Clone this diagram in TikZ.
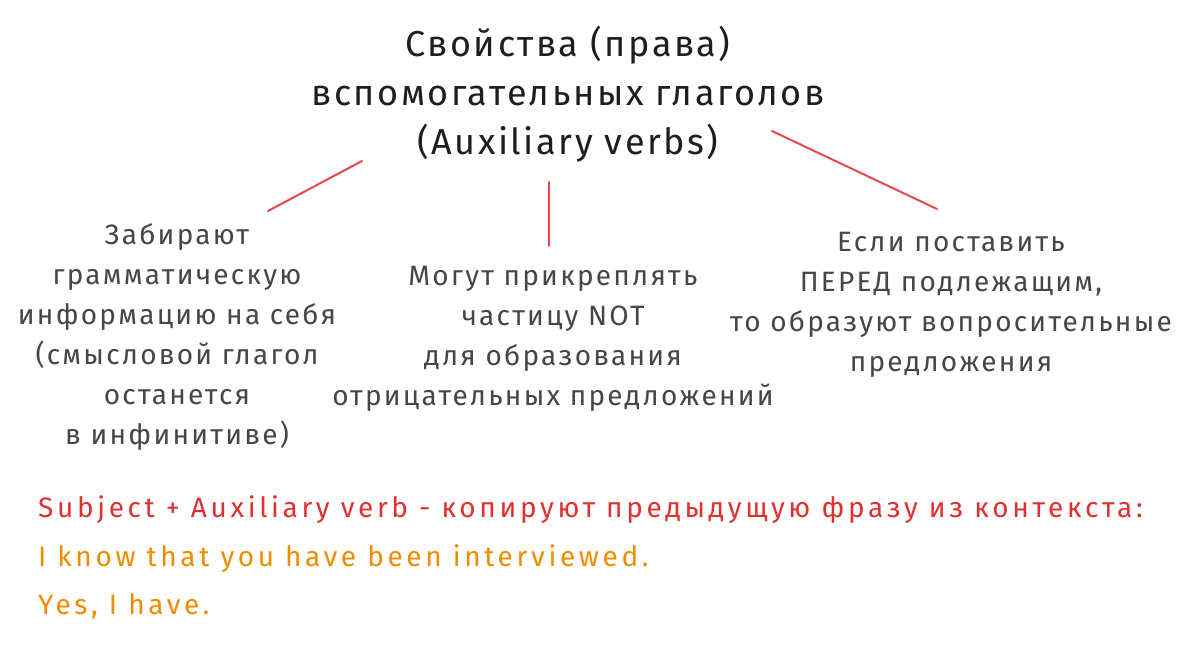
\documentclass[tikz,border=0pt]{standalone}
\usepackage{fontspec}
\setmainfont{Fira Sans}
\newfontfamily\titlefont[LetterSpace=7]{Fira Sans}
\newfontfamily\blockfont[LetterSpace=8]{Fira Sans}
\newfontfamily\notefont[LetterSpace=13]{Fira Sans}
\definecolor{ink}{HTML}{1E1E1E}
\definecolor{bodyink}{HTML}{464646}
\definecolor{linered}{HTML}{E5484D}
\definecolor{txtred}{HTML}{E03131}
\definecolor{txtorange}{HTML}{F08C00}
\begin{document}
\begin{tikzpicture}[x=1pt,y=-1pt,
  titletext/.style={font=\titlefont\fontsize{36}{49}\selectfont, text=ink, align=center, inner sep=0pt},
  blocktext/.style={font=\blockfont\fontsize{28}{40}\selectfont, text=bodyink, align=center, inner sep=0pt},
  notetext/.style={font=\notefont\fontsize{28}{30}\selectfont, anchor=west, inner sep=0pt},
  branch/.style={draw=linered, line width=2pt, line cap=round}]
\useasboundingbox[fill=white] (0,0) rectangle (1198,647);
\node[titletext] (title) at (568,94) {Свойства (права)\\вспомогательных глаголов\\(Auxiliary verbs)};
\node[blocktext] (left) at (177,337) {Забирают\\грамматическую\\информацию на себя\\(смысловой глагол\\останется\\в инфинитиве)};
\node[blocktext] (mid) at (553,339) {Могут прикреплять\\частицу NOT\\для образования\\отрицательных предложений};
\node[blocktext] (right) at (951,305) {Если поставить\\ПЕРЕД подлежащим,\\то образуют вопросительные\\предложения};
\node[notetext, text=txtred] (rule) at (38,510) {Subject + Auxiliary verb - копируют предыдущую фразу из контекста:};
\node[notetext, text=txtorange] (ex1) at (38,559) {I know that you have been interviewed.};
\node[notetext, text=txtorange] (ex2) at (38,606) {Yes, I have.};
\coordinate (la) at (362,161);
\coordinate (lb) at (268,211);
\coordinate (ma) at (549,182);
\coordinate (mb) at (549,246);
\coordinate (ra) at (772,131);
\coordinate (rb) at (937,209);
\draw[branch] (la) -- (lb);
\draw[branch] (ma) -- (mb);
\draw[branch] (ra) -- (rb);
\end{tikzpicture}
\end{document}
